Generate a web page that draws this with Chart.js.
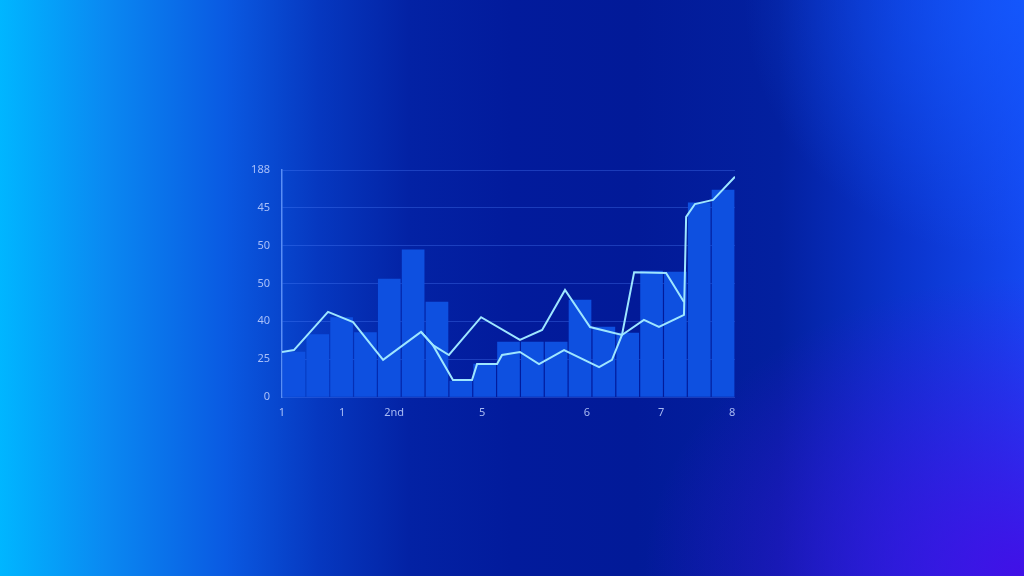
<!DOCTYPE html>
<html>
<head>
<meta charset="utf-8">
<script src="https://cdn.jsdelivr.net/npm/chart.js@4.4.1/dist/chart.umd.min.js"></script>
<style>
  html, body { margin: 0; padding: 0; width: 1024px; height: 576px; overflow: hidden; }
  body {
    background:
      radial-gradient(ellipse 380px 300px at 1024px 576px, rgba(70, 10, 230, 0.9), rgba(70, 10, 230, 0) 100%),
      radial-gradient(ellipse 280px 260px at 1024px 0px, rgba(20, 90, 255, 0.8), rgba(20, 90, 255, 0) 100%),
      linear-gradient(90deg, #00b6ff 0%, #0a8af2 10%, #0a5ae2 22%, #0638c0 31%, #0322a4 40%, #021b9c 50%, #021a98 62%, #03209f 76%, #0a34cc 88%, #1448f0 100%);
  }
  #wrap { position: absolute; left: 0; top: 0; width: 1024px; height: 576px; }
</style>
</head>
<body>
<div id="wrap"><canvas id="chart"></canvas></div>
<script>
// bar heights, one per column (value units of the y axis 0..60)
const barLabels = ['a','b','c','d','e','f','g','h','i','j','k','l','m','n','o','p','q','r','s'];
const barValues = [11.9, 16.5, 21, 17, 31.2, 38.9, 25.1, 4.2, 8.7, 14.5, 14.5, 14.5, 25.6, 18.5, 16.9, 33.3, 33.0, 51.3, 54.7];

// lower line
const lineAx = [0, 0.5, 1.93, 2.98, 4.24, 5.83, 6.33, 7.17, 7.97, 8.18, 9.02, 9.23, 9.98, 10.78, 11.83, 13.3, 13.84, 14.26, 14.77, 16.11, 16.86];
const lineAy = [11.9, 12.4, 22.5, 19.8, 9.8, 17.2, 13.7, 4.5, 4.5, 8.7, 8.7, 11.1, 11.9, 8.7, 12.4, 7.9, 9.8, 16.4, 33.0, 32.8, 25.1];

// upper line
const lineBx = [5.83, 6.33, 7.0, 8.35, 9.98, 10.91, 11.87, 12.92, 14.26, 15.18, 15.81, 16.86, 16.95, 17.32, 18.08, 19.0];
const lineBy = [17.2, 13.7, 11.1, 21.1, 15.1, 17.7, 28.3, 18.5, 16.4, 20.4, 18.5, 21.7, 47.6, 51.0, 52.1, 58.2];

// axis labels as printed
const yTickLabels = ['0', '25', '40', '50', '50', '45', '188'];
const xTickPos = [0, 2.52, 4.7, 8.39, 12.79, 15.9, 18.88];
const xTickLabels = ['1', '1', '2nd', '5', '6', '7', '8'];

function toPoints(xs, ys) {
  return xs.map((x, i) => ({ x: x, y: ys[i] }));
}

// each column sits in the middle of its slot on the shared x axis
const barX = barLabels.map((c, i) => i + 0.5);

const tickFont = { family: 'Noto Sans', size: 11 };
const tickColor = 'rgba(196, 212, 255, 0.85)';
const lineColor = '#9ee6ff';

const ctx = document.getElementById('chart');
new Chart(ctx, {
  data: {
    datasets: [
      {
        type: 'line',
        data: toPoints(lineAx, lineAy),
        borderColor: lineColor,
        borderWidth: 2,
        pointRadius: 0,
        tension: 0,
        fill: false,
        order: 1
      },
      {
        type: 'line',
        data: toPoints(lineBx, lineBy),
        borderColor: lineColor,
        borderWidth: 2,
        pointRadius: 0,
        tension: 0,
        fill: false,
        order: 0
      },
      {
        type: 'bar',
        data: toPoints(barX, barValues),
        backgroundColor: '#0e50e0',
        borderWidth: 0,
        barThickness: 22,
        order: 2
      }
    ]
  },
  options: {
    responsive: true,
    maintainAspectRatio: false,
    animation: false,
    layout: { padding: { left: 0, top: 170, right: 289, bottom: 0 } },
    plugins: {
      legend: { display: false },
      tooltip: { enabled: false }
    },
    scales: {
      x: {
        type: 'linear',
        position: 'bottom',
        min: 0,
        max: 19,
        offset: false,
        afterBuildTicks: scale => { scale.ticks = xTickPos.map(v => ({ value: v })); },
        afterFit: scale => { scale.height = 576 - 397; },
        grid: { display: false, drawTicks: false, offset: false },
        border: { display: false },
        ticks: {
          autoSkip: false,
          maxRotation: 0,
          padding: 9,
          color: tickColor,
          font: tickFont,
          callback: (value, index) => xTickLabels[index]
        }
      },
      y: {
        min: 0,
        max: 60,
        afterFit: scale => { scale.width = 282; },
        grid: { color: 'rgba(80, 130, 255, 0.32)', lineWidth: 1, drawTicks: false },
        border: { display: true, color: 'rgba(110, 160, 255, 0.8)', width: 1.5 },
        ticks: {
          stepSize: 10,
          padding: 12,
          color: tickColor,
          font: tickFont,
          callback: value => yTickLabels[Math.round(value / 10)]
        }
      }
    }
  }
});
</script>
</body>
</html>
